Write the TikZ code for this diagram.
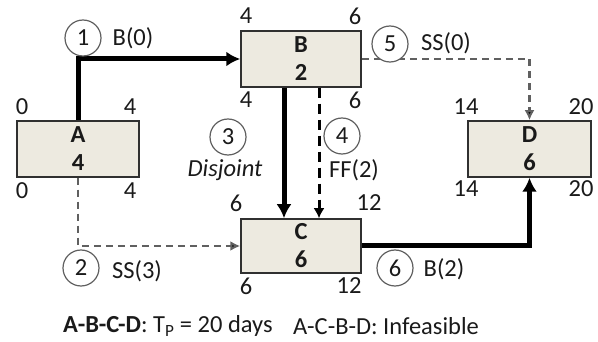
\documentclass[tikz,border=0pt]{standalone}
\usepackage{fontspec}
\setmainfont{Carlito}
\usetikzlibrary{arrows.meta}
\definecolor{boxfill}{HTML}{EDEAE0}
\definecolor{boxdraw}{HTML}{303030}
\definecolor{txt}{HTML}{1A1A1A}
\definecolor{dgray}{HTML}{606060}
\begin{document}
\begin{tikzpicture}[x=1pt,y=-1pt,
  every node/.style={font=\fontsize{24.5}{28}\selectfont, text=txt},
  actbox/.style={draw=boxdraw, line width=1.5pt, fill=boxfill, minimum width=122pt, minimum height=56pt, inner sep=0pt, align=center, font=\fontsize{24.5}{28}\selectfont\bfseries},
  num/.style={inner sep=0pt},
  circ/.style={circle, draw=dgray, line width=1.2pt, fill=white, minimum size=36pt, inner sep=0pt},
  thickarr/.style={line width=5pt, -{Latex[length=14pt,width=15pt]}},
  dasharr/.style={line width=3pt, dash pattern=on 10pt off 6pt, -{Latex[length=10pt,width=11pt]}},
  grayarr/.style={draw=dgray, line width=2.2pt, dash pattern=on 7pt off 5pt, -{Latex[length=10pt,width=10pt,fill=black]}},
  lbl/.style={inner sep=0pt}
]
\useasboundingbox (0,0) rectangle (598,342);
% boxes
\node[actbox] (A) at (78,149) {A\\4};
\node[actbox, minimum width=120pt] (B) at (301,59) {B\\2};
\node[actbox, minimum width=120pt, minimum height=54pt] (C) at (301,246) {C\\6};
\node[actbox, minimum width=123pt] (D) at (529.5,149) {D\\6};
% connectors
\draw[thickarr] (A.north) |- (B.west);
\draw[thickarr] ([xshift=-17pt]B.south) -- ([xshift=-17pt]C.north);
\draw[dasharr] ([xshift=18pt]B.south) -- ([xshift=18pt]C.north);
\draw[grayarr] (B.east) -| (D.north);
\draw[grayarr] (A.south) |- (C.west);
\draw[thickarr] (C.east) -| (D.south);
% circles
\node[circ] (c1) at (83,38) {1};
\node[circ] (c2) at (81,268) {2};
\node[circ] (c3) at (228,137) {3};
\node[circ] (c4) at (342,136) {4};
\node[circ] (c5) at (390,44) {5};
\node[circ] (c6) at (395,268) {6};
% relation labels
\node[lbl] (l1) at (133,38) {B(0)};
\node[lbl] (l2) at (137,271) {SS(3)};
\node[lbl] (l3) at (225,170) {\itshape Disjoint};
\node[lbl] (l4) at (354,170) {FF(2)};
\node[lbl] (l5) at (446,43) {SS(0)};
\node[lbl] (l6) at (444,269) {B(2)};
% times
\node[num] (a1) at (22,107) {0};
\node[num] (a2) at (130,107) {4};
\node[num] (a3) at (22,191) {0};
\node[num] (a4) at (130,191) {4};
\node[num] (b1) at (246,16) {4};
\node[num] (b2) at (355,16) {6};
\node[num] (b3) at (246,100) {4};
\node[num] (b4) at (355,100) {6};
\node[num] (cc1) at (236,203) {6};
\node[num] (cc2) at (369,203) {12};
\node[num] (cc3) at (246,286) {6};
\node[num] (cc4) at (349,286) {12};
\node[num] (d1) at (466,107) {14};
\node[num] (d2) at (581,107) {20};
\node[num] (d3) at (466,189) {14};
\node[num] (d4) at (581,189) {20};
% bottom text
\node[lbl, anchor=west] (t1) at (63,326) {\textbf{A-B-C-D}: T\textsubscript{P} = 20 days};
\node[lbl, anchor=west] (t2) at (293,326) {A-C-B-D: Infeasible};
\end{tikzpicture}
\end{document}
